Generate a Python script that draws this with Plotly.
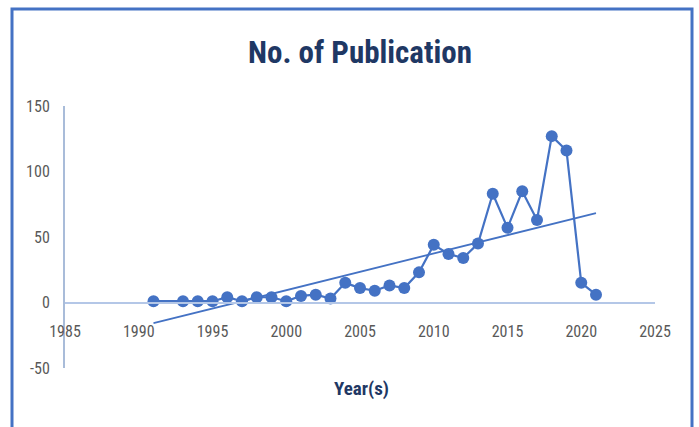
import numpy as np
import plotly.graph_objects as go

# Publications per year
years = [1991, 1993, 1994, 1995, 1996, 1997, 1998, 1999, 2000, 2001, 2002, 2003,
         2004, 2005, 2006, 2007, 2008, 2009, 2010, 2011, 2012, 2013, 2014, 2015,
         2016, 2017, 2018, 2019, 2020, 2021]
publications = [1, 1, 1, 1, 4, 1, 4, 4, 1, 5, 6, 3,
                15, 11, 9, 13, 11, 23, 44, 37, 34, 45, 83, 57,
                85, 63, 127, 116, 15, 6]

x_ticks = [1985, 1990, 1995, 2000, 2005, 2010, 2015, 2020, 2025]
y_ticks = [-50, 0, 50, 100, 150]

BLUE = "#4472C4"
NAVY = "#1F3864"
FONT = "Liberation Sans Narrow, Arial Narrow, Roboto Condensed, Liberation Sans, sans-serif"

# Linear trend fitted to the series
slope, intercept = np.polyfit(years, publications, 1)
trend_x = [years[0], years[-1]]
trend_y = [slope * v + intercept for v in trend_x]

fig = go.Figure()
fig.add_trace(go.Scatter(
    x=trend_x, y=trend_y, mode="lines",
    line=dict(color=BLUE, width=1.8), hoverinfo="skip", showlegend=False,
))
fig.add_trace(go.Scatter(
    x=years, y=publications, mode="lines+markers",
    line=dict(color=BLUE, width=2.2),
    marker=dict(color=BLUE, size=12),
    showlegend=False,
))

L, R, T, B = 65, 44, 106, 59
W, H = 699, 427
pw, ph = W - L - R, H - T - B

def px_x(p):
    return (p - L) / pw

def px_y(p):
    return (H - B - p) / ph

fig.update_layout(
    width=W, height=H,
    margin=dict(l=L, r=R, t=T, b=B),
    paper_bgcolor="white", plot_bgcolor="white",
    font=dict(family=FONT, color="#595959", size=16),
    title=dict(
        text="<b>No. of Publication</b>",
        font=dict(family=FONT, size=31, color=NAVY),
        x=0.5, xanchor="center", xref="paper",
        y=1 - 52 / H, yanchor="middle", yref="container",
    ),
    xaxis=dict(
        range=[1985, 2025], tickvals=x_ticks, ticktext=[str(v) for v in x_ticks],
        showgrid=False, zeroline=False,
        showline=True, linecolor="#B4C7E7", linewidth=2,
        anchor="free", position=0.25,
        ticks="", ticklabelstandoff=14,
        tickfont=dict(size=16, color="#595959"),
    ),
    yaxis=dict(
        range=[-50, 150], tickvals=y_ticks, ticktext=[str(v) for v in y_ticks],
        showgrid=False, zeroline=False,
        showline=True, linecolor="#A9BCD9", linewidth=2,
        ticks="", ticklabelstandoff=10,
        tickfont=dict(size=16, color="#595959"),
    ),
    annotations=[dict(
        text="<b>Year(s)</b>", showarrow=False,
        xref="paper", yref="paper", x=px_x(362), y=px_y(388),
        xanchor="center", yanchor="middle",
        font=dict(family=FONT, size=19, color=NAVY),
    )],
    shapes=[dict(
        type="rect", xref="paper", yref="paper",
        x0=px_x(12), x1=px_x(692), y0=px_y(434), y1=px_y(9),
        line=dict(color=BLUE, width=3), layer="below",
    )],
)

fig.write_html("out.html")
